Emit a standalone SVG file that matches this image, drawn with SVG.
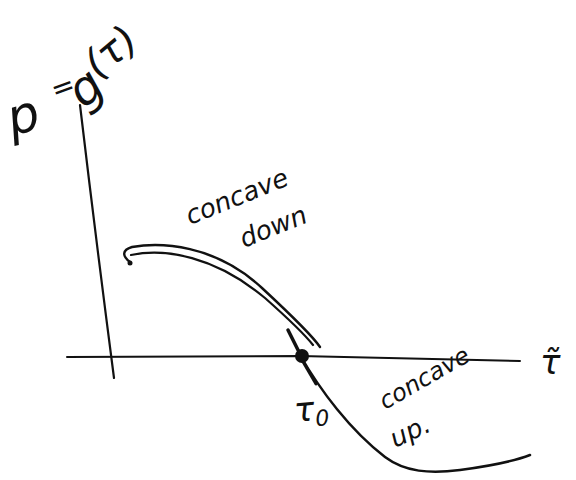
<svg xmlns="http://www.w3.org/2000/svg" width="576" height="480" viewBox="0 0 576 480">
<style>
.ink{fill:none;stroke:#111;stroke-linecap:round;stroke-linejoin:round}
.hand{font-family:"DejaVu Sans","Liberation Sans",sans-serif;font-style:oblique;fill:#111}
</style>
<rect width="576" height="480" fill="#fff"/>
<g id="axes">
<path class="ink" stroke-width="2.2" d="M80 105 Q96 240 114 378"/>
<path class="ink" stroke-width="2" d="M67 357 L300 356 L520 361"/>
</g>
<g id="curve">
<path class="ink" stroke-width="2.4" d="M130 262 C122 256 122 250 132 247 C160 242 215 244 262 288 C290 314 312 335 320 347"/>
<path class="ink" stroke-width="2.2" d="M131 255 C165 248 215 256 265 298 C292 322 306 336 313 345"/>
<path class="ink" stroke-width="3.5" d="M288 330 L298 350"/>
<path class="ink" stroke-width="2.5" d="M300 355 C320 390 350 430 385 457 C405 472 430 474 460 470 C490 466 512 462 530 455"/>
<circle cx="302" cy="356" r="7" fill="#111"/>
<path class="ink" stroke-width="3" d="M302 360 L316 384"/>
<circle cx="130" cy="263" r="2.5" fill="#111"/>
</g>
<g id="labels">
<text class="hand" font-size="50" transform="translate(12 136) rotate(-15)">p</text>
<text class="hand" font-size="28" transform="translate(55 100) rotate(-20)">=</text>
<text class="hand" font-size="48" transform="translate(84 110) rotate(-40)">g<tspan font-size="40" dy="-14">(τ)</tspan></text>
<text class="hand" font-size="26" transform="translate(190 225) rotate(-22)">concave</text>
<text class="hand" font-size="26" transform="translate(244 248) rotate(-22)">down</text>
<text class="hand" font-size="34" transform="translate(295 422) rotate(-5)">τ<tspan font-size="22" dy="6">0</tspan></text>
<text class="hand" font-size="24" transform="translate(385 410) rotate(-30)">concave</text>
<text class="hand" font-size="26" transform="translate(395 448) rotate(-25)">up.</text>
<text class="hand" font-size="34" transform="translate(540 374)">τ̃</text>
</g>
</svg>
